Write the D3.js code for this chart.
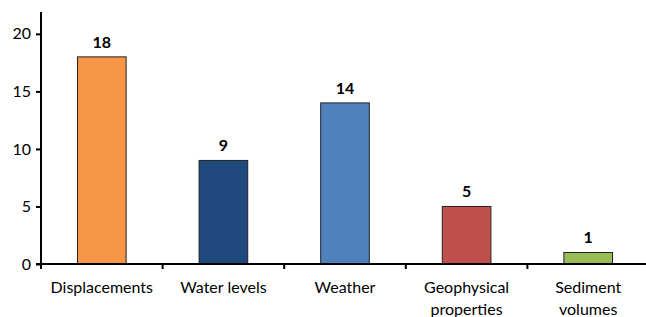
<!DOCTYPE html>
<html>
<head>
<meta charset="utf-8">
<script src="https://cdn.jsdelivr.net/npm/d3@7"></script>
<style>
  body { margin: 0; background: #fff; }
  svg { display: block; font-family: Lato, "Open Sans", sans-serif; }
</style>
</head>
<body>
<svg width="646" height="317"></svg>
<script>
// data
var categories = [["Displacements"], ["Water levels"], ["Weather"], ["Geophysical", "properties"], ["Sediment", "volumes"]];
var values = [18, 9, 14, 5, 1];
var colors = ["#F79646", "#1F497D", "#4F81BD", "#C0504D", "#9BBB59"];
var yTicks = [0, 5, 10, 15, 20];

var svg = d3.select("svg"),
    margin = {top: 12, right: -3, bottom: 53, left: 41},
    width = +svg.attr("width") - margin.left - margin.right,
    height = +svg.attr("height") - margin.top - margin.bottom,
    g = svg.append("g").attr("transform", "translate(" + margin.left + "," + margin.top + ")");

var x = d3.scaleBand()
    .domain(d3.range(values.length))
    .range([0, width])
    .paddingInner(0.6)
    .paddingOuter(0.3);

var y = d3.scaleLinear()
    .domain([0, 21.9])
    .range([height, 0]);

// bars
g.selectAll("rect.bar")
  .data(values)
  .enter().append("rect")
  .attr("class", "bar")
  .attr("x", function(d, i) { return x(i); })
  .attr("y", function(d) { return y(d); })
  .attr("width", x.bandwidth())
  .attr("height", function(d) { return height - y(d); })
  .attr("fill", function(d, i) { return colors[i]; })
  .attr("stroke", "#222")
  .attr("stroke-width", 1);

// value labels
g.selectAll("text.val")
  .data(values)
  .enter().append("text")
  .attr("class", "val")
  .attr("x", function(d, i) { return x(i) + x.bandwidth() / 2; })
  .attr("y", function(d) { return y(d) - 9; })
  .attr("text-anchor", "middle")
  .attr("font-size", 16)
  .attr("font-weight", "bold")
  .attr("fill", "#000")
  .text(function(d) { return d; });

// y axis
var yAxis = g.append("g")
  .call(d3.axisLeft(y).tickValues(yTicks).tickSize(5).tickPadding(5));
yAxis.select(".domain").remove();
yAxis.append("line")
  .attr("x1", 0).attr("x2", 0)
  .attr("y1", 0).attr("y2", height)
  .attr("stroke", "#000").attr("stroke-width", 2);
yAxis.selectAll(".tick line").attr("stroke", "#000").attr("stroke-width", 2);
yAxis.selectAll(".tick text")
  .attr("font-size", 16)
  .attr("font-family", "Lato, sans-serif")
  .attr("fill", "#000");

// x axis
var xAxis = g.append("g").attr("transform", "translate(0," + height + ")");
xAxis.append("line")
  .attr("x1", -5).attr("x2", width)
  .attr("stroke", "#000").attr("stroke-width", 2);
var step = x.step();
xAxis.selectAll("line.tk")
  .data(d3.range(values.length + 1))
  .enter().append("line")
  .attr("class", "tk")
  .attr("x1", function(i) { return x(0) - x.paddingOuter() * step + i * step; })
  .attr("x2", function(i) { return x(0) - x.paddingOuter() * step + i * step; })
  .attr("y1", 0).attr("y2", 5)
  .attr("stroke", "#000").attr("stroke-width", 2);

var lbl = xAxis.selectAll("text.cat")
  .data(categories)
  .enter().append("text")
  .attr("class", "cat")
  .attr("text-anchor", "middle")
  .attr("font-size", 16)
  .attr("fill", "#000")
  .attr("x", function(d, i) { return x(i) + x.bandwidth() / 2; })
  .attr("y", 29);
lbl.selectAll("tspan")
  .data(function(d) { return d; })
  .enter().append("tspan")
  .attr("x", function() { return d3.select(this.parentNode).attr("x"); })
  .attr("dy", function(d, j) { return j === 0 ? 0 : 22; })
  .text(function(d) { return d; });
</script>
</body>
</html>
